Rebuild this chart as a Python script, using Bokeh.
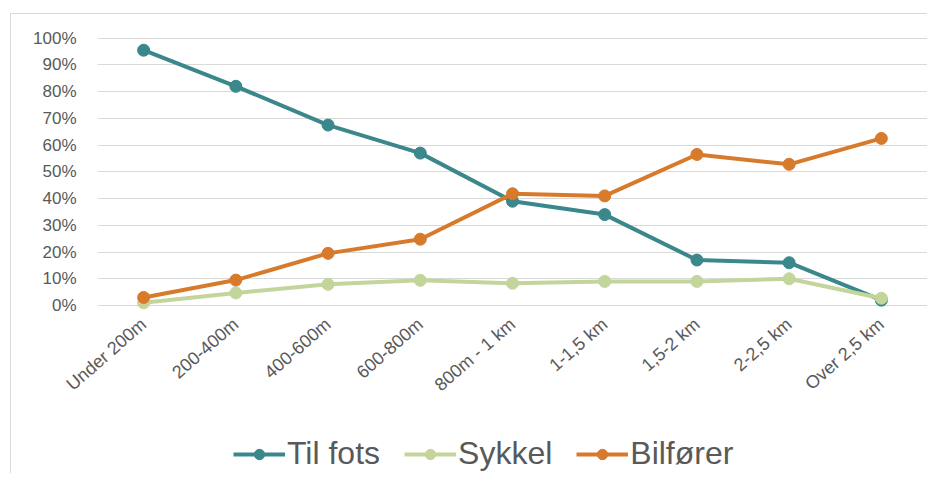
from bokeh.plotting import figure
from bokeh.layouts import column
from bokeh.models import (ColumnDataSource, FixedTicker, NumeralTickFormatter,
                          Legend, LegendItem, Range1d)
from bokeh.embed import file_html
from bokeh.resources import INLINE

categories = ["Under 200m", "200-400m", "400-600m", "600-800m", "800m - 1 km",
              "1-1,5 km", "1,5-2 km", "2-2,5 km", "Over 2,5 km"]
til_fots = [0.955, 0.82, 0.675, 0.57, 0.39, 0.34, 0.17, 0.16, 0.02]
sykkel = [0.01, 0.047, 0.079, 0.094, 0.083, 0.09, 0.09, 0.10, 0.027]
bilforer = [0.03, 0.095, 0.195, 0.248, 0.418, 0.41, 0.565, 0.528, 0.625]
series_names = ["Til fots", "Sykkel", "Bilfører"]
colors = ["#3A878C", "#C3D59B", "#D87A2B"]
y_ticks = [0.0, 0.1, 0.2, 0.3, 0.4, 0.5, 0.6, 0.7, 0.8, 0.9, 1.0]

W = 927
p = figure(x_range=categories, y_range=Range1d(-0.03, 1.01),
           width=W, height=410, output_backend="svg", toolbar_location=None,
           min_border_left=97, min_border_right=0, min_border_top=35,
           min_border_bottom=97)
p.outline_line_color = None
p.background_fill_alpha = 0
p.border_fill_alpha = 0

p.xgrid.grid_line_color = None
p.ygrid.grid_line_color = "#d9d9d9"
p.ygrid.grid_line_width = 1
p.yaxis.ticker = FixedTicker(ticks=y_ticks)
p.yaxis.formatter = NumeralTickFormatter(format="0%")

for ax in (p.xaxis, p.yaxis):
    ax.axis_line_color = None
    ax.major_tick_line_color = None
    ax.minor_tick_line_color = None
    ax.major_tick_out = 0
    ax.major_tick_in = 0
    ax.major_label_text_color = "#595959"
    ax.major_label_text_font = "Liberation Sans"

p.yaxis.major_label_text_font_size = "17px"
p.yaxis.major_label_standoff = 21
p.xaxis.major_label_text_font_size = "18px"
p.xaxis.major_label_orientation = 0.72
p.xaxis.major_label_standoff = 8

# legend-only figure below the chart (its glyphs sit outside its y range)
leg = figure(x_range=categories, y_range=Range1d(5, 6), width=W, height=63,
             output_backend="svg", toolbar_location=None, min_border=0)
leg.outline_line_color = None
leg.background_fill_alpha = 0
leg.border_fill_alpha = 0
leg.axis.visible = False
leg.grid.visible = False

items = []
for name, vals, col in zip(series_names, [til_fots, sykkel, bilforer], colors):
    src = ColumnDataSource(dict(x=categories, y=vals))
    p.line("x", "y", source=src, line_color=col, line_width=4)
    p.scatter("x", "y", source=src, size=12, fill_color=col, line_color=col)
    l1 = leg.line("x", "y", source=src, line_color=col, line_width=4)
    l2 = leg.scatter("x", "y", source=src, size=12, fill_color=col, line_color=col)
    items.append(LegendItem(label=name, renderers=[l1, l2]))

legend = Legend(items=items, orientation="horizontal", location=(136, 1),
                label_text_font="Liberation Sans", label_text_font_size="32px",
                label_text_color="#595959", glyph_width=52, glyph_height=26,
                label_standoff=2, spacing=24, padding=0, margin=0,
                border_line_color=None, background_fill_alpha=0)
leg.add_layout(legend, "center")

line_bg = "linear-gradient(#d9d9d9,#d9d9d9)"
page = column(p, leg, spacing=0,
              styles={"background": (f"{line_bg} 10px 13px / 1px 460px no-repeat, "
                                     f"{line_bg} 10px 13px / 917px 1px no-repeat, #ffffff")})

open("out.html", "w").write(file_html(page, INLINE))
